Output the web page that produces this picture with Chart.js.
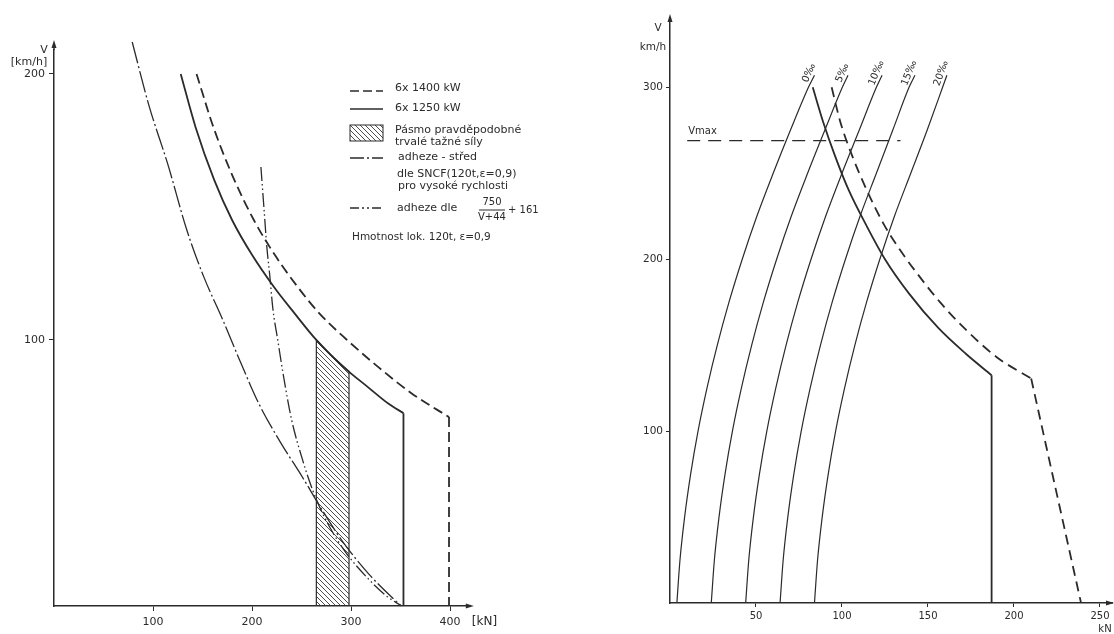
<!DOCTYPE html>
<html><head><meta charset="utf-8">
<script src="https://cdn.jsdelivr.net/npm/chart.js@4.4.1/dist/chart.umd.min.js"></script>
<style>
html,body{margin:0;padding:0;background:#ffffff;}
#wrap{position:relative;width:1114px;height:634px;overflow:hidden;}
#c1{position:absolute;left:0;top:0;}
#c2{position:absolute;left:557px;top:0;}
</style></head><body>
<div id="wrap"><canvas id="c1" width="557" height="634"></canvas><canvas id="c2" width="557" height="634"></canvas></div>
<script>
const INK = '#2b2b2b';
const FONT = '"DejaVu Sans", sans-serif';

// ===== Left chart: x = tažná síla [kN], y = V [km/h]
const leftXTicks = [100, 200, 300, 400];
const leftYTicks = [100, 200];

// 6x 1400 kW (dashed)
const p1400F = [144, 161, 180, 202, 223, 246, 268, 296, 327, 361, 399];
const p1400V = [200, 180, 162, 145, 132, 120, 110, 100, 90, 80, 71];
const p1400DropF = [399, 399];
const p1400DropV = [71, 0];

// 6x 1250 kW (solid)
const p1250F = [128, 143, 162, 180, 200, 222, 243, 265, 292, 318, 338, 353];
const p1250V = [200, 180, 160, 145, 132, 120, 110, 100, 90, 82, 76, 72.5];
const p1250DropF = [353, 353];
const p1250DropV = [72.5, 0];

// Pásmo pravděpodobné trvalé tažné síly (hatched band)
const bandF = [265, 265, 281, 298, 298, 265];
const bandV = [0, 100, 93.8, 88.2, 0, 0];

// adheze - střed dle SNCF (dash-dot)
const sncfF = [79, 96, 115, 134, 151, 170, 188, 207, 228, 251, 271, 291, 318, 342, 351];
const sncfV = [212, 188, 166, 141.5, 124, 108, 92, 76, 62, 48.4, 36, 24.5, 12, 3, 0];

// adheze dle 750/(V+44)+161 (dash-dot-dot)
const curtF = [209, 212, 215, 218, 221, 226, 232, 240, 251, 257, 265, 278, 295, 318, 335, 351];
const curtV = [165, 150, 135, 124, 112, 100, 86, 70, 55, 48, 40, 30, 20, 10, 4, 0];

// ===== Right chart: x = kN, y = V km/h
const rightXTicks = [50, 100, 150, 200, 250];
const rightYTicks = [100, 200, 300];
const gradLabels = ['0‰', '5‰', '10‰', '15‰', '20‰'];
const resV = [0, 25, 50, 75, 100, 125, 150, 175, 200, 225, 250, 275, 300, 307];
const res0 = [4, 5.8, 8.5, 12, 16.3, 21.5, 27.5, 34.3, 42, 50.5, 60, 70, 80.5, 84];
const res5 = [24, 25.8, 28.5, 32, 36.3, 41.5, 47.5, 54.3, 62, 70.5, 80, 90, 100.2, 103.5];
const res10 = [44, 45.8, 48.5, 52, 56.3, 61.5, 67.5, 74.3, 82, 90.5, 100, 110, 120, 123.3];
const res15 = [64, 65.8, 68.5, 72, 76.3, 81.5, 87.5, 94.3, 102, 110.5, 120, 129.5, 139, 142.4];
const res20 = [84, 85.8, 88.5, 92, 96.3, 101.5, 107.5, 114.3, 122, 130.5, 140, 149.5, 158.5, 161];

const trSolidF = [83, 89, 96, 104, 114, 125, 139, 156, 172, 187];
const trSolidV = [300, 280, 260, 240, 220, 200, 180, 160, 145, 132.5];
const trSolidDropF = [187, 187];
const trSolidDropV = [132.5, 0];

const trDashF = [94, 99, 106, 114.5, 124.5, 134, 145, 157, 171, 190, 210];
const trDashV = [300, 280, 260, 240, 220, 205, 190, 175, 160, 143, 130.6];
const trDashLowF = [210, 239];
const trDashLowV = [130.6, 0];

const vmaxF = [10, 134];
const vmaxV = [269, 269];

// ===== helpers
function line(F, V, opt) {
  return Object.assign({
    data: F.map((f, i) => ({ x: f, y: V[i] })),
    showLine: true, pointRadius: 0, borderColor: INK, borderWidth: 1.6,
    fill: false, tension: 0
  }, opt || {});
}
const SMOOTH = { cubicInterpolationMode: 'monotone' };
function hatchPattern() {
  const c = document.createElement('canvas');
  c.width = 5; c.height = 5;
  const g = c.getContext('2d');
  g.strokeStyle = '#3a3a3a'; g.lineWidth = 0.9;
  g.beginPath();
  g.moveTo(-1, -1); g.lineTo(6, 6);
  g.moveTo(-1, 4); g.lineTo(1, 6);
  g.moveTo(4, -1); g.lineTo(6, 1);
  g.stroke();
  return g.createPattern(c, 'repeat');
}
function arrowUp(ctx, x, y) {
  ctx.beginPath(); ctx.moveTo(x, y); ctx.lineTo(x - 2.5, y + 8); ctx.lineTo(x + 2.5, y + 8); ctx.closePath(); ctx.fill();
}
function arrowRight(ctx, x, y) {
  ctx.beginPath(); ctx.moveTo(x, y); ctx.lineTo(x - 8, y - 2.5); ctx.lineTo(x - 8, y + 2.5); ctx.closePath(); ctx.fill();
}
function scaleOpts(min, max, ticksArr, fit, isX, fsize, tickLen, pad) {
  return {
    type: 'linear', min: min, max: max,
    afterBuildTicks: s => { s.ticks = ticksArr.map(v => ({ value: v })); },
    afterFit: s => { if (isX) s.height = fit; else s.width = fit; },
    ticks: { color: INK, font: { family: FONT, size: fsize }, padding: pad, maxRotation: 0, autoSkip: false, includeBounds: false },
    grid: { drawOnChartArea: false, drawTicks: true, tickLength: tickLen, color: INK, lineWidth: 1 },
    border: { display: true, color: INK, width: 1.5 }
  };
}
const common = {
  responsive: false, animation: false, events: [],
  plugins: { legend: { display: false }, tooltip: { enabled: false } }
};

// ===== left decorations (legend, units, arrows)
const leftDeco = {
  id: 'leftDeco',
  afterDraw(chart) {
    const ctx = chart.ctx;
    const a = chart.chartArea;
    ctx.save();
    ctx.fillStyle = INK; ctx.strokeStyle = INK;
    ctx.lineWidth = 1.5;
    ctx.beginPath(); ctx.moveTo(a.left, a.top); ctx.lineTo(a.left, a.top - 6); ctx.stroke();
    arrowUp(ctx, a.left, a.top - 10);
    arrowRight(ctx, a.right + 4, a.bottom);
    ctx.font = '11px ' + FONT;
    ctx.textAlign = 'center'; ctx.textBaseline = 'middle';
    ctx.fillText('V', 44, 50);
    ctx.fillText('[km/h]', 29, 62);
    ctx.textAlign = 'left';
    ctx.font = '12px ' + FONT;
    ctx.fillText('[kN]', a.right + 2, 622);

    const sx = 350, ex = 383, tx = 395;
    ctx.font = '11px ' + FONT;
    ctx.textBaseline = 'middle';
    ctx.lineWidth = 1.6;
    ctx.setLineDash([9, 4]);
    ctx.beginPath(); ctx.moveTo(sx, 91); ctx.lineTo(ex, 91); ctx.stroke();
    ctx.fillText('6x 1400 kW', tx, 88);
    ctx.setLineDash([]);
    ctx.beginPath(); ctx.moveTo(sx, 109); ctx.lineTo(ex, 109); ctx.stroke();
    ctx.fillText('6x 1250 kW', tx, 108);
    ctx.fillStyle = hatchPattern();
    ctx.fillRect(sx, 125, ex - sx, 16);
    ctx.lineWidth = 1;
    ctx.strokeRect(sx, 125, ex - sx, 16);
    ctx.fillStyle = INK;
    ctx.fillText('Pásmo pravděpodobné', tx, 130);
    ctx.fillText('trvalé tažné síly', tx, 142);
    ctx.lineWidth = 1.4;
    ctx.setLineDash([14, 3, 2, 3]);
    ctx.beginPath(); ctx.moveTo(sx, 158); ctx.lineTo(ex, 158); ctx.stroke();
    ctx.setLineDash([]);
    ctx.fillText('adheze - střed', tx + 3, 157);
    ctx.fillText('dle SNCF(120t,ε=0,9)', tx + 2, 174);
    ctx.fillText('pro vysoké rychlosti', tx + 3, 186);
    ctx.setLineDash([9, 3, 2, 3, 2, 3]);
    ctx.beginPath(); ctx.moveTo(sx, 208); ctx.lineTo(ex, 208); ctx.stroke();
    ctx.setLineDash([]);
    ctx.fillText('adheze dle', tx + 2, 208);
    ctx.textAlign = 'center';
    ctx.font = '10px ' + FONT;
    ctx.fillText('750', 492, 202);
    ctx.fillText('V+44', 492, 217);
    ctx.lineWidth = 1;
    ctx.beginPath(); ctx.moveTo(479, 210); ctx.lineTo(505, 210); ctx.stroke();
    ctx.textAlign = 'left';
    ctx.fillText('+ 161', 508, 210);
    ctx.font = '10.5px ' + FONT;
    ctx.fillText('Hmotnost lok. 120t, ε=0,9', 352, 237);
    ctx.restore();
  }
};

// ===== right decorations
const rightDeco = {
  id: 'rightDeco',
  afterDraw(chart) {
    const ctx = chart.ctx;
    const a = chart.chartArea;
    const xs = chart.scales.x, ys = chart.scales.y;
    ctx.save();
    ctx.fillStyle = INK; ctx.strokeStyle = INK;
    ctx.lineWidth = 1.5;
    ctx.beginPath(); ctx.moveTo(a.left, a.top); ctx.lineTo(a.left, a.top - 4); ctx.stroke();
    arrowUp(ctx, a.left, a.top - 8);
    arrowRight(ctx, a.right + 2, a.bottom);
    ctx.font = '10.5px ' + FONT;
    ctx.textAlign = 'center'; ctx.textBaseline = 'middle';
    ctx.fillText('V', 101, 28);
    ctx.fillText('km/h', 96, 47);
    ctx.font = '10px ' + FONT;
    ctx.fillText('kN', 548, 629);
    ctx.textAlign = 'left';
    ctx.fillText('Vmax', xs.getPixelForValue(vmaxF[0]) + 1, ys.getPixelForValue(vmaxV[0]) - 9);
    const curves = [res0, res5, res10, res15, res20];
    ctx.font = '10px ' + FONT;
    curves.forEach((c, i) => {
      const n = c.length - 1;
      const x1 = xs.getPixelForValue(c[n]), y1 = ys.getPixelForValue(resV[n]);
      const x0 = xs.getPixelForValue(c[n - 2]), y0 = ys.getPixelForValue(resV[n - 2]);
      const ang = Math.atan2(y1 - y0, x1 - x0);
      ctx.save();
      ctx.translate(x1, y1);
      ctx.rotate(ang);
      ctx.textAlign = 'center'; ctx.textBaseline = 'bottom';
      ctx.fillText(gradLabels[i], 0, -1);
      ctx.restore();
    });
    ctx.restore();
  }
};

// ===== left chart
new Chart(document.getElementById('c1'), {
  type: 'scatter',
  data: {
    datasets: [
      line(p1250F, p1250V, Object.assign({ borderWidth: 1.8 }, SMOOTH)),
      line(p1250DropF, p1250DropV, { borderWidth: 1.8 }),
      line(p1400F, p1400V, Object.assign({ borderWidth: 1.8, borderDash: [10, 5] }, SMOOTH)),
      line(p1400DropF, p1400DropV, { borderWidth: 1.8, borderDash: [10, 5] }),
      line(sncfF, sncfV, Object.assign({ borderWidth: 1.3, borderDash: [22, 3, 2, 3], clip: false }, SMOOTH)),
      line(curtF, curtV, Object.assign({ borderWidth: 1.3, borderDash: [14, 3, 1.5, 3, 1.5, 3] }, SMOOTH)),
      line(bandF, bandV, { borderWidth: 1.2, fill: 'shape', backgroundColor: hatchPattern() })
    ]
  },
  options: Object.assign({}, common, {
    layout: { padding: { left: 0, top: 50, right: 87.2, bottom: 0 } },
    scales: {
      x: scaleOpts(0, 420, leftXTicks, 28, true, 11, 5, 5),
      y: scaleOpts(0, 209, leftYTicks, 54, false, 11, 5, 4)
    }
  }),
  plugins: [leftDeco]
});

// ===== right chart
new Chart(document.getElementById('c2'), {
  type: 'scatter',
  data: {
    datasets: [
      line(res0, resV, Object.assign({ borderWidth: 1.2 }, SMOOTH)),
      line(res5, resV, Object.assign({ borderWidth: 1.2 }, SMOOTH)),
      line(res10, resV, Object.assign({ borderWidth: 1.2 }, SMOOTH)),
      line(res15, resV, Object.assign({ borderWidth: 1.2 }, SMOOTH)),
      line(res20, resV, Object.assign({ borderWidth: 1.2 }, SMOOTH)),
      line(trSolidF, trSolidV, Object.assign({ borderWidth: 1.8 }, SMOOTH)),
      line(trSolidDropF, trSolidDropV, { borderWidth: 1.8 }),
      line(trDashF, trDashV, Object.assign({ borderWidth: 1.8, borderDash: [10, 6] }, SMOOTH)),
      line(trDashLowF, trDashLowV, { borderWidth: 1.8, borderDash: [10, 6] }),
      line(vmaxF, vmaxV, { borderWidth: 1.2, borderDash: [13, 8] })
    ]
  },
  options: Object.assign({}, common, {
    layout: { padding: { left: 0, top: 22, right: 2, bottom: 0 } },
    scales: {
      x: scaleOpts(0, 257, rightXTicks, 31, true, 10, 4, 3),
      y: scaleOpts(0, 338, rightYTicks, 113, false, 10.5, 4, 3)
    }
  }),
  plugins: [rightDeco]
});
</script>
</body></html>
